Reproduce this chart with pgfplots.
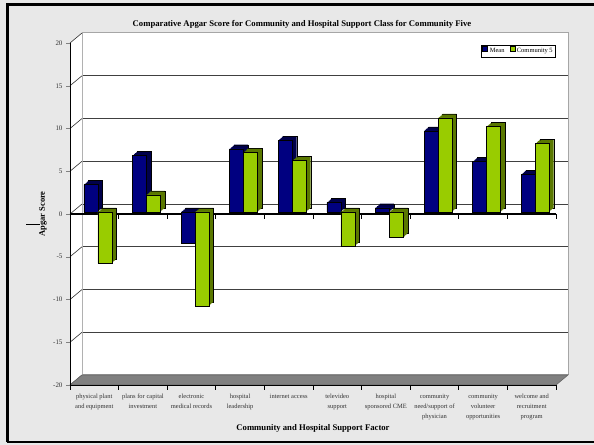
\documentclass[border=0pt]{standalone}
\usepackage{fontspec}
\setmainfont{Liberation Serif}
\usepackage{pgfplots}
\usepackage{pgfplotstable}
\pgfplotsset{compat=1.18}
\definecolor{bg}{HTML}{E8E8E8}
\definecolor{meanF}{HTML}{000080}
\definecolor{meanD}{HTML}{00004A}
\definecolor{comF}{HTML}{99CC00}
\definecolor{comD}{HTML}{5A7800}
\definecolor{floorc}{HTML}{808080}
\pgfplotsset{sqlegend/.style={legend image code/.code={\draw[##1] (0bp,-2.5bp) rectangle (5bp,2.5bp);}}}

\pgfplotstableread{
x mean com
1 3.2 -6
2 6.6 2
3 -3.6 -11
4 7.4 7
5 8.4 6
6 1.1 -4
7 0.5 -3
8 9.5 11
9 5.9 10
10 4.4 8
}\data

\begin{document}
\begin{tikzpicture}
\fill[bg] (0,0) rectangle (594bp,445bp);
\path[use as bounding box] (0,0) rectangle (594bp,445bp);
\draw[line width=3bp] (7bp,3bp) -- (7bp,440.5bp) -- (594bp,440.5bp);
\draw[line width=2bp] (7bp,3bp) -- (594bp,3bp);

% back wall
\begin{axis}[at={(82bp,70bp)}, anchor=south west, scale only axis,
  width=486bp, height=342bp, xmin=0.5, xmax=10.5, ymin=-20, ymax=20,
  xtick=\empty, ytick={-15,-10,...,15}, yticklabels={}, major tick length=0pt,
  ymajorgrids, grid style={draw=black!75, line width=0.7bp},
  axis line style={draw=black!35, line width=1bp},
  axis background/.style={fill=white}]
\end{axis}

% left wall and floor
\fill[white] (70bp,60bp) -- (70bp,402bp) -- (82bp,412bp) -- (82bp,70bp) -- cycle;
\foreach \k in {0,...,8} {
  \draw[black!80, line width=0.6bp] (70bp,60bp+42.75bp*\k) -- (82bp,70bp+42.75bp*\k);
}
\filldraw[fill=floorc, draw=black!60, line width=0.6bp] (70bp,60bp) -- (556bp,60bp) -- (568bp,70bp) -- (82bp,70bp) -- cycle;

% front axis with bars
\begin{axis}[at={(70bp,60bp)}, anchor=south west, scale only axis,
  width=486bp, height=342bp, xmin=0.5, xmax=10.5, ymin=-20, ymax=20,
  axis x line*=bottom, axis y line*=left,
  axis line style={line width=1bp},
  ytick={-20,-15,...,20}, tick align=outside, major tick length=4bp,
  /pgf/number format/assume math mode=true,
  yticklabel style={font=\fontsize{7}{8}\selectfont, text=black!80},
  xtick={1,...,10}, xtick style={draw=none},
  xticklabels={physical plant\\and equipment, plans for capital\\investment, electronic\\medical records, hospital\\leadership, internet access, televideo\\support, hospital\\sponsored CME, community\\need/support of\\physician, community\\volunteer\\opportunities, welcome and\\recruitment\\program},
  xticklabel style={align=center, font=\fontsize{6.5}{10}\selectfont, text=black!80, yshift=-1.5bp},
  legend style={at={(1,1)}, anchor=north east, yshift=-2bp, draw=black, line width=0.6bp, fill=white,
    font=\fontsize{6.5}{7}\selectfont, inner sep=1bp, /tikz/every even column/.append style={column sep=3bp}},
  legend columns=2,
  clip=false]

\draw[line width=1.1bp] (axis cs:0.5,0) -- (axis cs:10.5,0);
\pgfplotsinvokeforeach{0.5,1.5,...,10.5}{
  \draw[line width=0.9bp] (axis cs:#1,0) -- ([yshift=-5bp]axis cs:#1,0);
  \draw[line width=0.9bp] (axis cs:#1,-20) -- ([yshift=-5bp]axis cs:#1,-20);
}

% Mean
\addplot[ybar, bar width=14bp, bar shift=1bp, yshift=6bp, fill=meanD, draw=black, line width=0.4bp, forget plot] table[x=x,y=mean]{\data};
\addplot[ybar, bar width=14bp, bar shift=0.1bp, yshift=5.2bp, fill=meanD, draw=none, forget plot] table[x=x,y=mean]{\data};
\addplot[ybar, bar width=14bp, bar shift=-0.8bp, yshift=4.4bp, fill=meanD, draw=none, forget plot] table[x=x,y=mean]{\data};
\addplot[ybar, bar width=14bp, bar shift=-1.7bp, yshift=3.6bp, fill=meanD, draw=none, forget plot] table[x=x,y=mean]{\data};
\addplot[ybar, bar width=14bp, bar shift=-2.6bp, yshift=2.8bp, fill=meanD, draw=none, forget plot] table[x=x,y=mean]{\data};
\addplot[ybar, bar width=14bp, bar shift=-3.5bp, yshift=2bp, fill=meanF, draw=black, line width=0.4bp, sqlegend] table[x=x,y=mean]{\data};
\addlegendentry{Mean}

% Community 5
\addplot[ybar, bar width=14bp, bar shift=15bp, yshift=6bp, fill=comD, draw=black, line width=0.4bp, forget plot] table[x=x,y=com]{\data};
\addplot[ybar, bar width=14bp, bar shift=14.1bp, yshift=5.2bp, fill=comD, draw=none, forget plot] table[x=x,y=com]{\data};
\addplot[ybar, bar width=14bp, bar shift=13.2bp, yshift=4.4bp, fill=comD, draw=none, forget plot] table[x=x,y=com]{\data};
\addplot[ybar, bar width=14bp, bar shift=12.3bp, yshift=3.6bp, fill=comD, draw=none, forget plot] table[x=x,y=com]{\data};
\addplot[ybar, bar width=14bp, bar shift=11.4bp, yshift=2.8bp, fill=comD, draw=none, forget plot] table[x=x,y=com]{\data};
\addplot[ybar, bar width=14bp, bar shift=10.5bp, yshift=2bp, fill=comF, draw=black, line width=0.4bp, sqlegend] table[x=x,y=com]{\data};
\addlegendentry{Community 5}
\end{axis}

\node[font=\bfseries\fontsize{8.7}{10}\selectfont] at (302bp,421bp) {Comparative Apgar Score for Community and Hospital Support Class for Community Five};
\node[font=\bfseries\fontsize{8.7}{10}\selectfont] at (313bp,17bp) {Community and Hospital Support Factor};
\node[font=\bfseries\fontsize{8.5}{10}\selectfont, rotate=90] at (43bp,231bp) {Apgar Score};
\draw[line width=0.6bp] (26bp,221bp) -- (40bp,221bp);
\end{tikzpicture}
\end{document}
